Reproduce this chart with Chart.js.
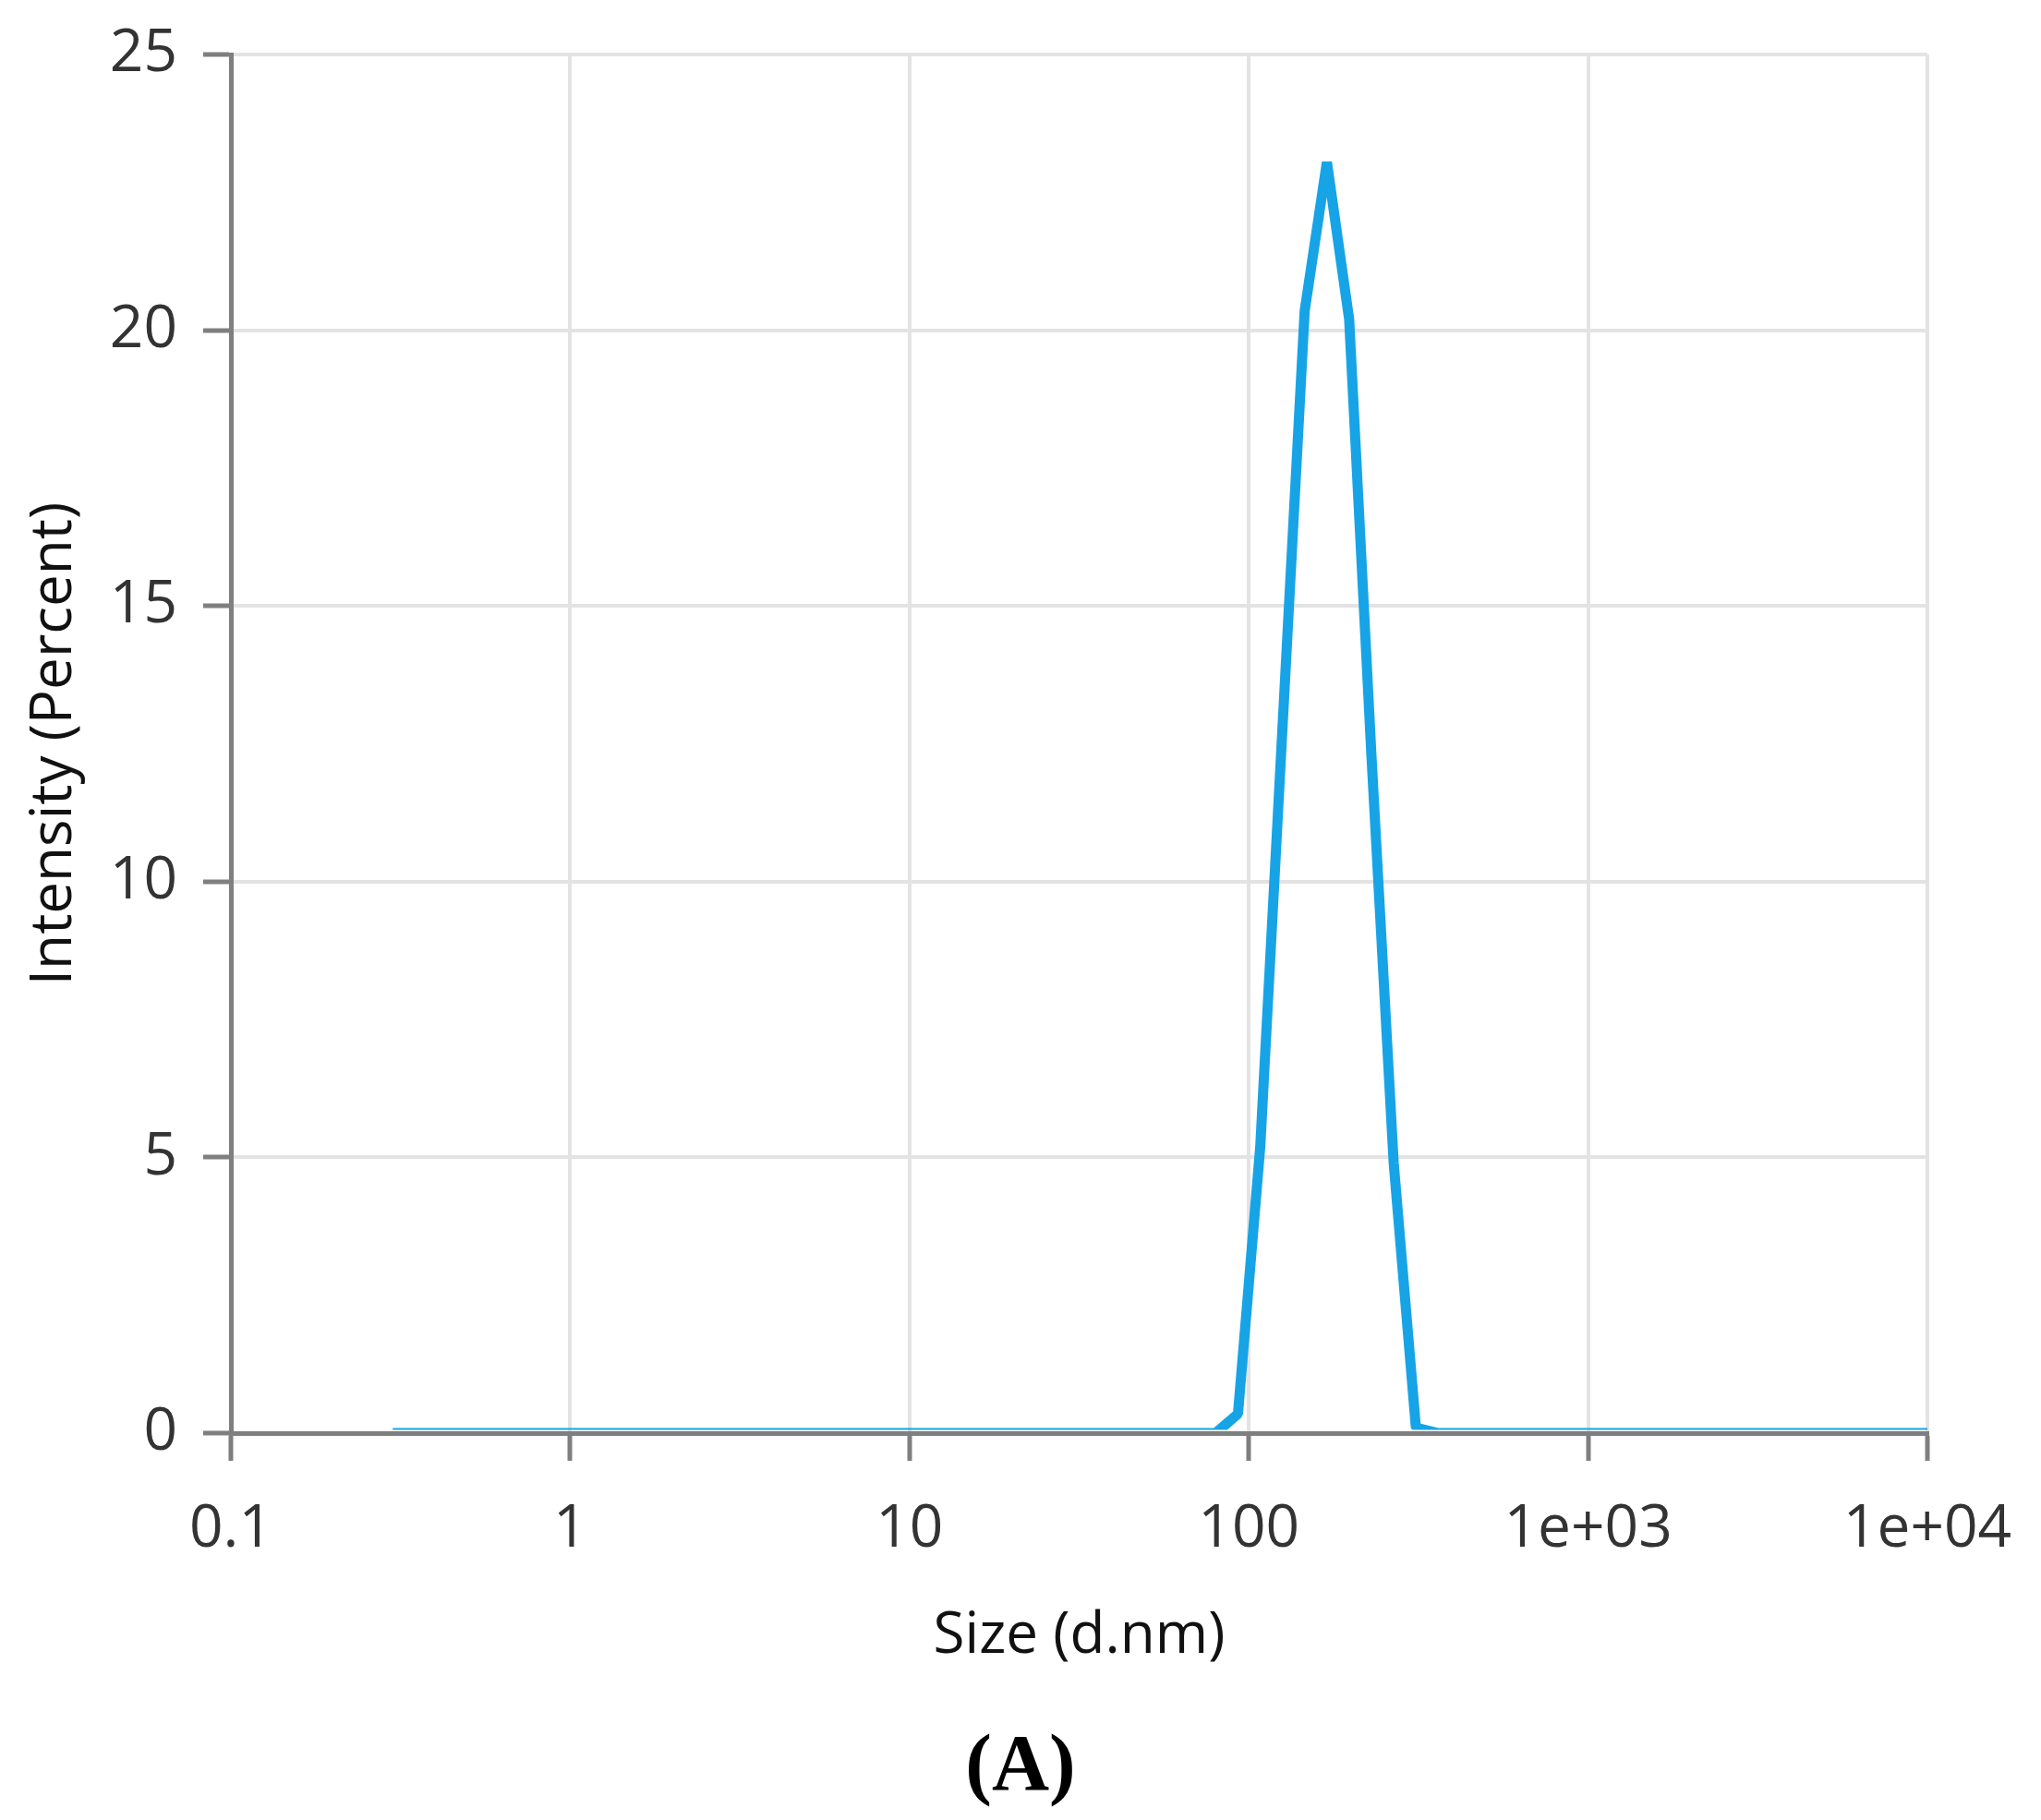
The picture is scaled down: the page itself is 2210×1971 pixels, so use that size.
<!DOCTYPE html>
<html>
<head>
<meta charset="utf-8">
<script src="https://cdn.jsdelivr.net/npm/chart.js@4.4.1/dist/chart.umd.min.js"></script>
<style>
html,body{margin:0;padding:0;background:#fff;}
#wrap{position:relative;width:2210px;height:1971px;}
#c{position:absolute;left:0;top:0;}
#cap{position:absolute;left:0;width:2210px;top:1866px;text-align:center;font:bold 86px "Liberation Serif","Times New Roman",serif;line-height:86px;color:#000;}
</style>
</head>
<body>
<div id="wrap">
<canvas id="c" width="2210" height="1971" style="width:2210px;height:1971px"></canvas>
<div id="cap">(A)</div>
</div>
<script>
// Size classes (d.nm)
const sizes = [0.3, 0.3489, 0.4057, 0.4718, 0.5487, 0.6381, 0.742, 0.8629, 1.004, 1.167,
  1.357, 1.578, 1.835, 2.134, 2.482, 2.886, 3.357, 3.904, 4.54, 5.279,
  6.14, 7.14, 8.303, 9.656, 11.23, 13.06, 15.19, 17.66, 20.54, 23.88,
  27.77, 32.3, 37.56, 43.68, 50.8, 59.08, 68.7, 79.9, 92.92, 108.1,
  125.7, 146.1, 169.9, 197.6, 229.8, 267.3, 310.8, 361.5, 420.4, 488.9,
  568.5, 661.2, 768.9, 894.2, 1040, 1209, 1406, 1636, 1902, 2212,
  2572, 2991, 3479, 4046, 4705, 5471, 6363, 7400, 8605, 10000];
// Intensity (Percent)
const intensity = [0, 0, 0, 0, 0, 0, 0, 0, 0, 0,
  0, 0, 0, 0, 0, 0, 0, 0, 0, 0,
  0, 0, 0, 0, 0, 0, 0, 0, 0, 0,
  0, 0, 0, 0, 0, 0, 0, 0, 0.35, 5.2,
  12.8, 20.35, 23.05, 20.2, 12.3, 4.9, 0.1, 0, 0, 0,
  0, 0, 0, 0, 0, 0, 0, 0, 0, 0,
  0, 0, 0, 0, 0, 0, 0, 0, 0, 0];
const xTickValues = [0.1, 1, 10, 100, 1000, 10000];
const xTickLabels = ['0.1', '1', '10', '100', '1e+03', '1e+04'];
const yTickValues = [0, 5, 10, 15, 20, 25];
const xTitle = 'Size (d.nm)';
const yTitle = 'Intensity (Percent)';

const points = sizes.map((s, i) => ({x: s, y: intensity[i]}));
const FONT = '"Open Sans", "Noto Sans", sans-serif';
const AXIS = '#7f7f7f';
const GRID = '#e3e3e3';

new Chart(document.getElementById('c'), {
  type: 'line',
  data: {
    datasets: [{
      data: points,
      borderColor: '#17a4e6',
      borderWidth: 11,
      borderJoinStyle: 'bevel',
      pointRadius: 0,
      fill: false,
      tension: 0,
      clip: {left: 0, top: 20, right: 0, bottom: -3.5}
    }]
  },
  options: {
    responsive: false,
    animation: false,
    layout: {padding: {top: 59, right: 123, bottom: 0, left: 0}},
    plugins: {legend: {display: false}, tooltip: {enabled: false}},
    scales: {
      x: {
        type: 'logarithmic',
        min: 0.1, max: 10000,
        afterBuildTicks: s => { s.ticks = xTickValues.map(v => ({value: v})); },
        afterFit: s => { s.height = 419; s.paddingLeft = 0; s.paddingRight = 0; },
        ticks: {
          autoSkip: false, maxRotation: 0, minRotation: 0, padding: 36,
          color: '#333333', font: {family: FONT, size: 64},
          callback: (v) => { const i = xTickValues.indexOf(v); return i >= 0 ? xTickLabels[i] : ''; }
        },
        grid: {color: GRID, lineWidth: 4, tickColor: AXIS, tickWidth: 5, tickLength: 30, drawTicks: true},
        border: {color: AXIS, width: 5},
        title: {display: true, text: xTitle, color: '#111111', font: {family: FONT, size: 62}, padding: {top: 0, bottom: 161}}
      },
      y: {
        min: 0, max: 25,
        afterBuildTicks: s => { s.ticks = yTickValues.map(v => ({value: v})); },
        afterFit: s => { s.width = 250; s.paddingTop = 0; s.paddingBottom = 0; },
        ticks: {padding: 28, color: '#333333', font: {family: FONT, size: 64}},
        grid: {color: GRID, lineWidth: 4, tickColor: AXIS, tickWidth: 5, tickLength: 30, drawTicks: true},
        border: {color: AXIS, width: 5},
        title: {display: true, text: yTitle, color: '#111111', font: {family: FONT, size: 62}, padding: {top: 22, bottom: 0}}
      }
    }
  }
});
</script>
</body>
</html>
